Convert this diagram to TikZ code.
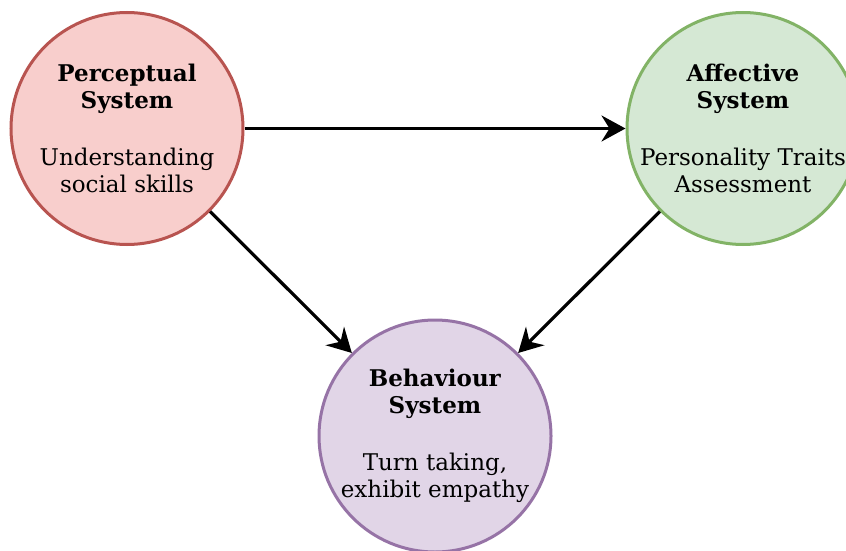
\documentclass[tikz,border=0pt]{standalone}
\usepackage{fontspec}
\setmainfont{DejaVu Serif}
\usetikzlibrary{arrows.meta}
\definecolor{percFill}{HTML}{F8CECC}
\definecolor{percLine}{HTML}{B85450}
\definecolor{affFill}{HTML}{D5E8D4}
\definecolor{affLine}{HTML}{82B366}
\definecolor{behFill}{HTML}{E1D5E7}
\definecolor{behLine}{HTML}{9673A6}

\begin{document}
\begin{tikzpicture}[x=0.5pt, y=-0.5pt,
        system/.style={circle, draw, line width=1.5pt, minimum size=116pt,
          inner sep=-8pt, align=center, font=\fontsize{11.5}{13.5}\selectfont},
        flow/.style={-{Stealth[length=12pt, width=13pt, inset=4pt]}, line width=1.6pt}]
        \useasboundingbox (0,0) rectangle (846,551);

        % Perceptual System
        \node[system, draw=percLine, fill=percFill] (perc) at (127,128.5)
          {\textbf{Perceptual}\\\textbf{System}\\[15pt]Understanding\\social skills};

        % Affective System
        \node[system, draw=affLine, fill=affFill] (aff) at (743,128.5)
          {\textbf{Affective}\\\textbf{System}\\[15pt]Personality Traits\\Assessment};

        % Behaviour System
        \node[system, draw=behLine, fill=behFill] (beh) at (435,436)
          {\textbf{Behaviour}\\\textbf{System}\\[15pt]Turn taking,\\exhibit empathy};

        % Arrows
        \draw[flow] (perc) -- (aff);
        \draw[flow] (perc) -- (beh);
        \draw[flow] (aff) -- (beh);
      \end{tikzpicture}
\end{document}
